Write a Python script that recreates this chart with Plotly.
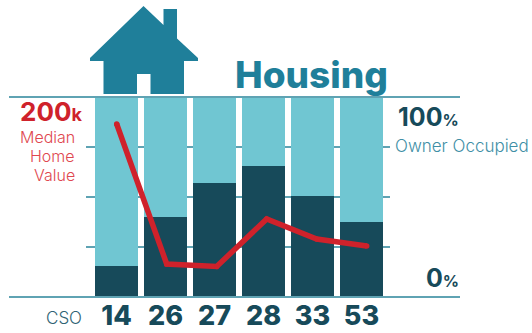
import plotly.graph_objects as go

cso = ["14", "26", "27", "28", "33", "53"]
owner_occupied = [15.5, 40, 57, 65.5, 50.5, 37.5]
remainder = [84.5, 60, 43, 34.5, 49.5, 62.5]
home_value = [173, 33, 30.5, 78, 58, 51]
pct_ticks = [0, 25, 50, 75, 100]

W, H = 532, 333
L, R, T, B = 9, 460, 97, 297
FONT = "Inter"
DARK = "#174a5a"
LIGHT = "#70c6d2"
TEAL = "#1f7f9a"
AXIS = "#5fa3b3"
RED = "#cf222b"

def px(x):
    return (x - L) / (R - L)

def py(y):
    return (B - y) / (B - T)

house = [(143.5, 6), (163.5, 25), (163.5, 9), (177, 9), (177, 38.5), (198, 58), (198, 61),
         (184, 61), (184, 94), (150.5, 94), (150.5, 74), (137, 74), (137, 94), (103.5, 94),
         (103.5, 61), (90, 61), (90, 58)]
house_path = "M " + " L ".join(f"{px(x):.5f},{py(y):.5f}" for x, y in house) + " Z"

fig = go.Figure()
fig.add_bar(x=cso, y=owner_occupied, marker_color=DARK, marker_line_width=0, width=43/49, xaxis="x", yaxis="y")
fig.add_bar(x=cso, y=remainder, marker_color=LIGHT, marker_line_width=0, width=43/49, xaxis="x", yaxis="y")
fig.add_scatter(x=cso, y=home_value, mode="lines+markers", line=dict(color=RED, width=5.5),
                marker=dict(color=RED, size=5.5), xaxis="x2", yaxis="y2", cliponaxis=False)

def label(text, x, y, size, color, anchor="left", weight=400):
    fig.add_annotation(text=text, x=px(x), y=py(y), xref="paper", yref="paper", xanchor=anchor,
                       yanchor="middle", showarrow=False, borderpad=0, align=anchor,
                       font=dict(family=FONT, size=size, color=color, weight=weight))

label("Housing", 234, 75, 37, TEAL, weight=800)
label("<b>200</b><b><span style='font-size:18px'>k</span></b>", 83, 112, 26, RED, "right")
label("Median", 76, 137, 16, "#e0474f", "right", 300)
label("Home", 76, 156, 16, "#e0474f", "right", 300)
label("Value", 76, 175, 16, "#e0474f", "right", 300)
label("<b>100</b><b><span style='font-size:16px'>%</span></b>", 460, 117, 25, DARK, "right")
label("Owner Occupied", 394, 146, 17, "#3f8fa6", "left", 300)
label("<b>0</b><b><span style='font-size:16px'>%</span></b>", 460, 278, 25, DARK, "right")
label("CSO", 83, 318, 17, "#2f6374", "right", 300)

fig.update_layout(
    width=W, height=H, autosize=False, barmode="stack", showlegend=False,
    paper_bgcolor="white", plot_bgcolor="white",
    margin=dict(l=L, r=W - R, t=T, b=H - B, pad=0),
    font=dict(family=FONT),
    xaxis=dict(domain=[px(86), px(390)], range=[(86 - 116.5) / 49, (390 - 116.5) / 49],
               type="category", categoryorder="array", categoryarray=cso, showgrid=False,
               showline=False, ticks="", tickfont=dict(family=FONT, size=27, color=DARK, weight=800),
               ticklen=0, automargin=False),
    xaxis2=dict(domain=[px(86), px(390)], range=[(86 - 116.7) / 50, (390 - 116.7) / 50],
                type="category", categoryorder="array", categoryarray=cso, overlaying="x",
                anchor="y2", visible=False),
    yaxis=dict(range=[0, 100], tickvals=pct_ticks, showticklabels=False, ticks="", showgrid=True,
               gridcolor=AXIS, gridwidth=2, zeroline=False, showline=False, automargin=False),
    yaxis2=dict(range=[0, 200], overlaying="y", anchor="x2", visible=False),
    shapes=[
        dict(type="line", xref="paper", yref="paper", x0=0, x1=1, y0=0, y1=0, line=dict(color=AXIS, width=2)),
        dict(type="line", xref="paper", yref="paper", x0=0, x1=1, y0=1, y1=1, line=dict(color=AXIS, width=2)),
        dict(type="path", xref="paper", yref="paper", path=house_path, fillcolor=TEAL, line=dict(width=0)),
    ],
)
fig.write_html("out.html", config=dict(displayModeBar=False),
               post_script="document.body.style.margin='0';document.body.style.overflow='hidden';")
